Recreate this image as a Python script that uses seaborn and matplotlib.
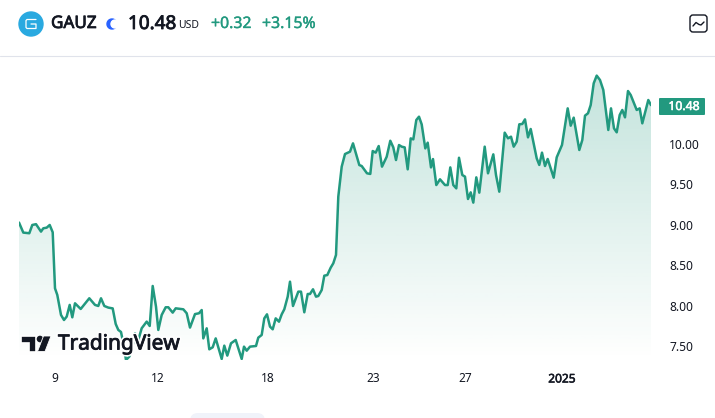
import numpy as np
import pandas as pd
import seaborn as sns
import matplotlib.pyplot as plt
from matplotlib.colors import LinearSegmentedColormap
from matplotlib.patches import Circle, FancyBboxPatch, Polygon, Wedge
import matplotlib.patheffects as pe

# x is elapsed chart time
elapsed = [0, 4.3, 10.3, 13.3, 17, 22, 24.3, 27.7, 30.7, 33.7, 36, 38.3, 42, 45, 47.7, 50.7, 53.3, 56, 61.7, 70.3,
           76, 79.3, 82, 85.3, 89.3, 93.7, 96.7, 99.3, 102, 104.3, 107, 110.3, 112.7, 116, 119.3, 122.7, 127.7, 130.7,
           133.7, 137, 139.3, 142.7, 146.7, 149.3, 153.7, 156.7, 164.3, 167.7, 171, 176, 180, 182.7, 184.3, 187.7,
           190.3, 193.7, 196.7, 202.7, 205.3, 208.3, 212, 216.7, 222.7, 225, 227.7, 231, 237, 239.3, 242.7, 245.3,
           248, 251, 253.7, 256.7, 260, 262.7, 265.3, 268.7, 271, 274, 279.3, 282, 285.3, 288.7, 291, 294, 297, 299.3,
           302.7, 305.3, 308.3, 311.7, 314.3, 317, 319.3, 322.7, 326, 331, 334, 340.3, 342.7, 348, 351.3, 353.7, 356.7,
           359.7, 363, 367.7, 371.3, 374.3, 377, 380, 382.7, 385.7, 388.7, 391.7, 394.3, 397.3, 400, 402.7, 406.3,
           408.7, 412, 414, 417.3, 421, 426, 428.7, 431.3, 434.3, 437.3, 440, 443.3, 446, 449, 451.7, 454.3, 457.3,
           460.3, 465.7, 469, 474.3, 477, 480.3, 485.7, 489, 492, 494.7, 497.7, 500.3, 503.3, 506, 509, 511.7, 517.7,
           520.3, 523, 526, 528.7, 534.7, 537.7, 543, 548.7, 551.7, 554.7, 560.3, 563.3, 566, 569, 571.7, 574.7, 577.7,
           581, 584.3, 589.3, 592, 595, 597.7, 600.7, 603.3, 606, 609, 611.7, 617.7, 620.7, 623.3, 629.3, 632]
price = [9.03, 8.906, 8.898, 9.0, 9.01, 8.918, 8.959, 8.967, 9.0, 8.91, 8.218, 8.136, 7.889, 7.827, 7.869, 8.013, 7.86,
         8.033, 7.963, 8.095, 8.013, 8.0, 8.095, 8.0, 7.98, 7.97, 7.778, 7.704, 7.679, 7.54, 7.333, 7.375, 7.457, 7.663,
         7.58, 7.725, 7.807, 7.753, 8.247, 7.992, 7.704, 7.889, 7.984, 7.984, 7.918, 7.971, 7.959, 7.91, 7.733, 7.9,
         7.91, 7.95, 7.6, 7.724, 7.465, 7.49, 7.6, 7.346, 7.51, 7.387, 7.539, 7.58, 7.346, 7.498, 7.448, 7.498, 7.506,
         7.609, 7.642, 7.847, 7.897, 7.745, 7.712, 7.847, 7.806, 7.897, 7.959, 8.115, 8.3, 8.0, 8.177, 8.177, 7.922,
         8.148, 8.148, 8.206, 8.115, 8.123, 8.197, 8.374, 8.382, 8.473, 8.527, 8.63, 9.35, 9.72, 9.876, 9.905, 10.008,
         9.74, 9.728, 9.638, 9.63, 9.913, 9.893, 9.975, 9.72, 9.843, 10.04, 9.958, 9.802, 9.987, 9.967, 9.958, 9.687,
         10.069, 10.057, 10.296, 10.337, 10.242, 9.946, 10.016, 9.711, 9.814, 9.493, 9.564, 9.493, 9.493, 9.711, 9.493,
         9.452, 9.83, 9.617, 9.597, 9.321, 9.403, 9.276, 9.588, 9.399, 9.967, 9.638, 9.872, 9.617, 9.411, 10.14, 10.07,
         10.09, 9.967, 10.029, 10.243, 10.247, 10.304, 10.082, 10.185, 9.823, 9.741, 9.893, 9.728, 9.815, 9.584, 9.835,
         9.988, 10.44, 10.226, 10.325, 9.926, 10.049, 10.35, 10.379, 10.481, 10.749, 10.844, 10.79, 10.667, 10.173,
         10.44, 10.193, 10.144, 10.358, 10.42, 10.329, 10.654, 10.605, 10.42, 10.44, 10.255, 10.543, 10.48]
date_ticks = [36, 139, 249, 354, 446, 543]
date_labels = ["9", "12", "18", "23", "27", "2025"]
price_ticks = [7.5, 8.0, 8.5, 9.0, 9.5, 10.0]

GREEN = "#22997f"
DARK = "#131722"


def fat(color, width=0.55):
    # the installed Noto Sans has no heavy face here, so thicken with a stroke
    return [pe.withStroke(linewidth=width, foreground=color)]


sns.set_theme(style="white")
plt.rcParams["font.family"] = ["Noto Sans", "DejaVu Sans"]

df = pd.DataFrame({"elapsed": elapsed, "price": price})

fig = plt.figure(figsize=(7.15, 4.18), dpi=100)
ax = fig.add_axes([19 / 715, 1 - 360 / 418, 632 / 715, 303 / 418])

sns.lineplot(data=df, x="elapsed", y="price", color=GREEN, linewidth=1.8, ax=ax, zorder=3)

# gradient area under the line
cmap = LinearSegmentedColormap.from_list("fade", [(0.133, 0.6, 0.498, 0.0), (0.133, 0.6, 0.498, 0.27)])
grad = np.linspace(1, 0, 256).reshape(-1, 1)
poly = ax.fill_between(df["elapsed"], df["price"], 7.333, color="none")
img = ax.imshow(grad, extent=[0, 632, 7.333, 10.85], aspect="auto", cmap=cmap, vmin=0, vmax=1, zorder=1)
img.set_clip_path(poly.get_paths()[0], ax.transData)

ax.set_xlim(0, 632)
ax.set_ylim(7.333, 11.074)
ax.set_xlabel("")
ax.set_ylabel("")
ax.yaxis.tick_right()
ax.set_xticks(date_ticks)
ax.set_xticklabels(date_labels)
ax.set_yticks(price_ticks)
ax.set_yticklabels([f"{v:.2f}" for v in price_ticks])
ax.tick_params(axis="x", length=0, pad=9, labelsize=8.6, labelcolor=DARK)
ax.tick_params(axis="y", length=0, pad=13, labelsize=8.6, labelcolor=DARK)
ax.get_xticklabels()[-1].set_path_effects(fat(DARK, 0.4))
sns.despine(ax=ax, left=True, right=True, top=True, bottom=True)

# overlay in pixel units for the header and logos
top = fig.add_axes([0, 0, 1, 1], facecolor="none")
top.set_xlim(0, 715)
top.set_ylim(418, 0)
top.axis("off")

top.plot([0, 715], [56, 56], color="#e0e3eb", lw=0.8)

top.add_patch(Circle((31, 24), 12, color="#29a9e0"))
top.plot([36, 27, 26, 26, 27, 36, 36, 31], [19.5, 19.5, 20.5, 27.5, 28.5, 28.5, 24, 24], color="white", lw=0.9)
top.text(51, 24, "GAUZ", fontsize=12.3, color=DARK, va="center", ha="left", path_effects=fat(DARK))
top.add_patch(Wedge((112, 24), 5, 0, 360, width=5, color="#2962ff"))
top.add_patch(Circle((115, 24), 4, color="white"))
top.text(128, 24, "10.48", fontsize=13.6, color=DARK, va="center", ha="left", path_effects=fat(DARK, 0.6))
top.text(178, 26, "USD", fontsize=7.5, color=DARK, va="center", ha="left")
top.text(211, 24, "+0.32", fontsize=11.4, color=GREEN, va="center", ha="left", path_effects=fat(GREEN, 0.25))
top.text(262, 24, "+3.15%", fontsize=11.4, color=GREEN, va="center", ha="left", path_effects=fat(GREEN, 0.25))

# chart type button
top.add_patch(FancyBboxPatch((690, 15), 17, 17, boxstyle="round,pad=0,rounding_size=3", fc="white", ec=DARK, lw=1))
top.plot([693, 696, 699, 701, 704], [26, 22.5, 24.5, 25, 22], color=DARK, lw=1)

# last price badge
top.add_patch(FancyBboxPatch((659, 98), 46, 17, boxstyle="round,pad=0,rounding_size=1", fc=GREEN, ec="none"))
top.text(684, 106.5, "10.48", fontsize=8.8, color="white", va="center", ha="center", path_effects=fat("white", 0.4))

# TradingView logo
top.add_patch(Polygon([(21, 336), (36, 336), (36, 351.5), (28.5, 351.5), (28.5, 343), (21, 343)], fc=DARK, ec="white", lw=1.2))
top.add_patch(Circle((40, 339), 3.3, fc=DARK, ec="none"))
top.add_patch(Polygon([(43.5, 336), (51, 336), (45, 351.5), (37.5, 351.5)], fc=DARK, ec="white", lw=0.6))
top.text(58, 344, "TradingView", fontsize=15, color="white", va="center", ha="left",
         path_effects=[pe.withStroke(linewidth=3, foreground="white")], zorder=5)
top.text(58, 344, "TradingView", fontsize=15, color=DARK, va="center", ha="left",
         path_effects=fat(DARK, 0.6), zorder=6)

# pill cut off at the bottom edge
top.add_patch(FancyBboxPatch((190, 413), 75, 20, boxstyle="round,pad=0,rounding_size=8", fc="#f0f3fa", ec="none"))

fig.savefig("out.png", dpi=100)
